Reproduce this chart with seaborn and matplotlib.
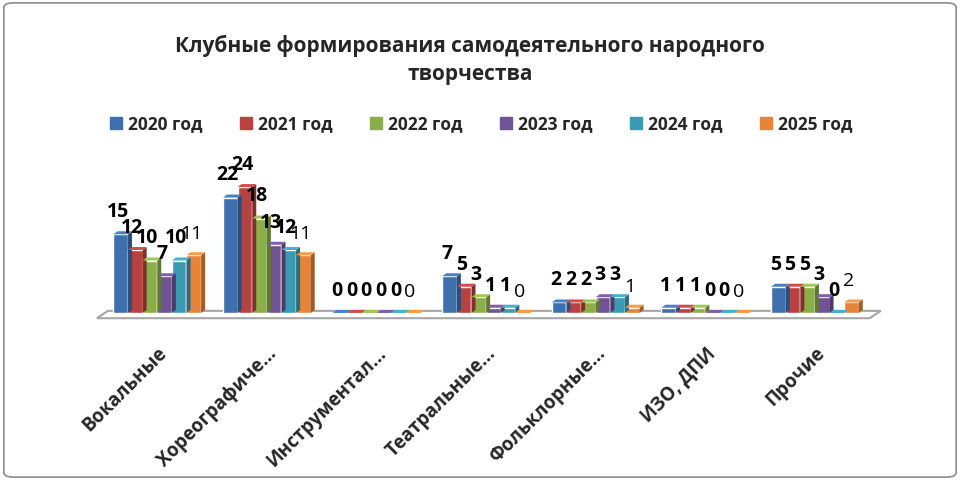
import pandas as pd
import numpy as np
import seaborn as sns
import matplotlib.pyplot as plt
from matplotlib.patches import Polygon, Rectangle, FancyBboxPatch
from matplotlib.lines import Line2D

# chart data
categories = ['Вокальные', 'Хореографиче…', 'Инструментал…', 'Театральные…',
              'Фольклорные…', 'ИЗО, ДПИ', 'Прочие']
years = ['2020 год', '2021 год', '2022 год', '2023 год', '2024 год', '2025 год']
v2020 = [15, 22, 0, 7, 2, 1, 5]
v2021 = [12, 24, 0, 5, 2, 1, 5]
v2022 = [10, 18, 0, 3, 2, 1, 5]
v2023 = [7, 13, 0, 1, 3, 0, 3]
v2024 = [10, 12, 0, 1, 3, 0, 0]
v2025 = [11, 11, 0, 0, 1, 0, 2]
colors = ['#3F70AE', '#B8423F', '#8BAF48', '#6F5394', '#3A9AB4', '#E6843A']

series = [v2020, v2021, v2022, v2023, v2024, v2025]
rows = []
for y, vals in zip(years, series):
    for c, v in zip(categories, vals):
        rows.append({'Категория': c, 'Год': y, 'Кол-во': v})
df = pd.DataFrame(rows)

sns.set_theme(style='white')
plt.rcParams['font.family'] = ['Open Sans', 'DejaVu Sans']

fig = plt.figure(figsize=(9.6, 4.8), dpi=100)
ax = fig.add_axes([0.101, 0.348, 0.805, 0.306])

sns.barplot(data=df, x='Категория', y='Кол-во', hue='Год', palette=colors,
            width=0.8, saturation=1, ax=ax, legend=False, zorder=3)

ax.set_xlim(-0.55, 6.5)
ax.set_ylim(0, 28)
ax.set_xlabel('')
ax.set_ylabel('')
ax.set_yticks([])
for s in ax.spines.values():
    s.set_visible(False)

# floor of the pseudo-3D plot
ppx = 0.805 * 960 / 7.05       # pixels per category unit
ppy = 0.306 * 480 / 28          # pixels per value unit
dx = 4 / ppx
dy = 3 / ppy
floor = Polygon([(-0.55, -1.0), (6.5, -1.0), (6.6, 0.4), (-0.45, 0.4)],
                closed=True, facecolor='white', edgecolor='#A6A6A6', lw=1.5,
                zorder=1, clip_on=False)
ax.add_patch(floor)

# side and top faces for depth effect
bars = [p for p in ax.patches if isinstance(p, Rectangle) and p.get_width() > 0]
for p in bars:
    x0, w, h = p.get_x(), p.get_width(), p.get_height()
    col = p.get_facecolor()
    dark = tuple(np.array(col[:3]) * 0.7)
    light = tuple(np.minimum(np.array(col[:3]) * 1.15, 1))
    side = Polygon([(x0 + w, 0), (x0 + w + dx, dy), (x0 + w + dx, h + dy), (x0 + w, h)],
                   closed=True, facecolor=dark, edgecolor='none', zorder=3, clip_on=False)
    top = Polygon([(x0, h), (x0 + dx, h + dy), (x0 + w + dx, h + dy), (x0 + w, h)],
                  closed=True, facecolor=light, edgecolor='none', zorder=3, clip_on=False)
    ax.add_patch(side)
    ax.add_patch(top)

# data labels
k = 0
for j, vals in enumerate(series):
    for ci, v in enumerate(vals):
        p = bars[k]
        k += 1
        weight = 'normal' if j == 5 else 'bold'
        ax.text(p.get_x() + p.get_width() * 0.3, v + 2.3, str(v), ha='center',
                va='bottom', fontsize=14, fontweight=weight, color='black', zorder=5)

ax.set_xticks(range(len(categories)))
ax.set_xticklabels(categories, rotation=45, ha='right', rotation_mode='anchor',
                   fontsize=13.5, fontweight='bold')
ax.tick_params(axis='x', length=0, pad=22)

fig.text(0.49, 0.876, 'Клубные формирования самодеятельного народного\nтворчества',
         ha='center', va='center', fontsize=15, fontweight='bold', linespacing=1.45)

handles = [Line2D([], [], marker='s', ls='', markersize=9, markerfacecolor=c,
                  markeredgecolor=c) for c in colors]
leg = fig.legend(handles, years, loc='center', bbox_to_anchor=(0.5, 0.742), ncol=6,
                 frameon=False, prop={'weight': 'bold', 'size': 12.5},
                 handletextpad=0.2, columnspacing=2.0, handlelength=1.0)

border = FancyBboxPatch((0.004, 0.006), 0.992, 0.988, boxstyle='round,pad=0,rounding_size=0.01',
                        transform=fig.transFigure, facecolor='none', edgecolor='#8C8C8C', lw=1.2)
fig.patches.append(border)

fig.savefig('out.png', dpi=100)
